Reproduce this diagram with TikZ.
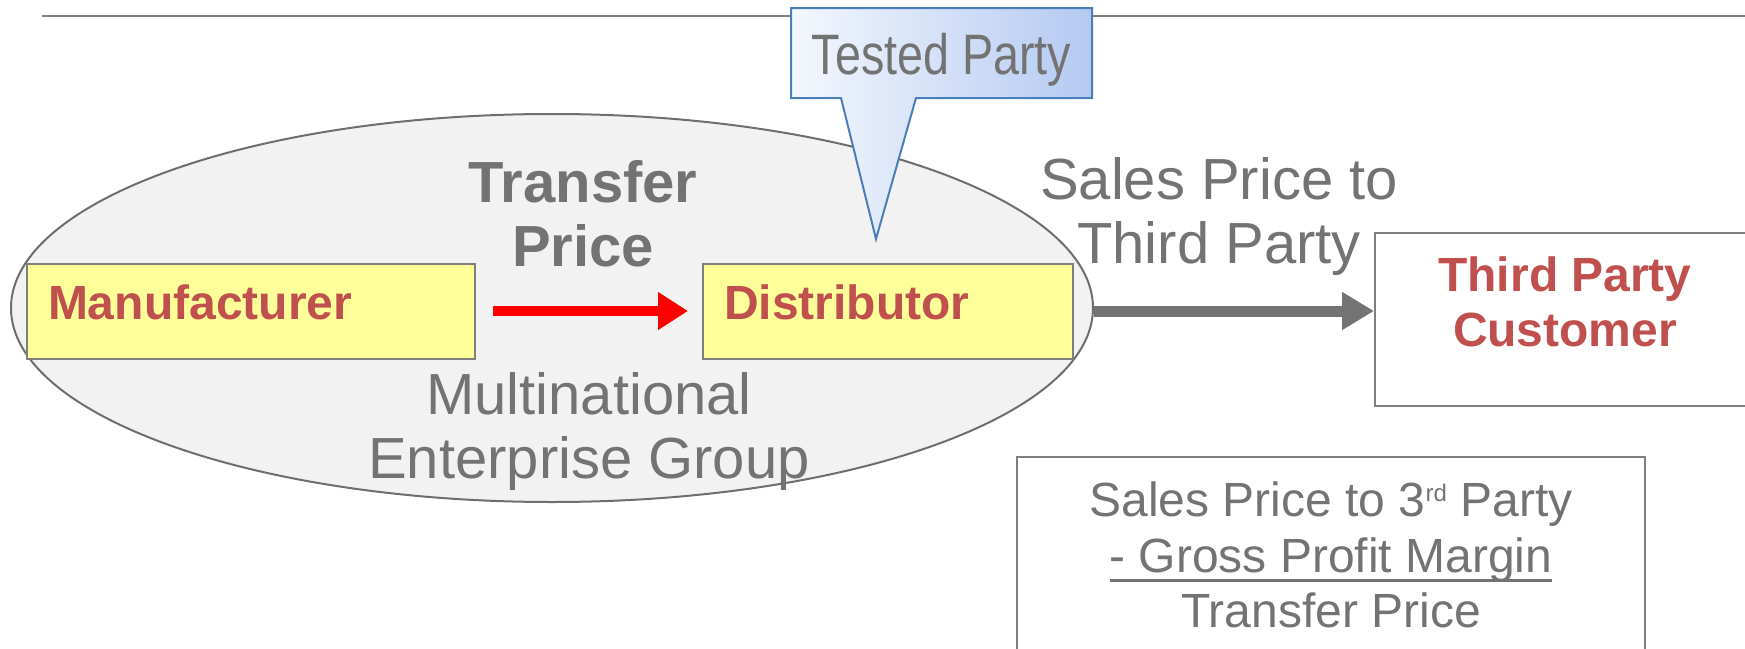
\documentclass[tikz,border=0pt]{standalone}
\usepackage{fontspec}
\setmainfont{Liberation Sans}
\newfontfamily\narrowfont{Liberation Sans}[FakeStretch=0.82]
\usetikzlibrary{positioning,shapes.geometric,arrows.meta}
\definecolor{txtgray}{HTML}{737373}
\definecolor{txtred}{HTML}{C0504D}
\definecolor{boxyellow}{HTML}{FFFF99}
\definecolor{boxgray}{HTML}{7F7F7F}
\definecolor{groupfill}{HTML}{F2F2F2}
\definecolor{groupline}{HTML}{6E6E6E}
\definecolor{calloutline}{HTML}{4A7EBB}
\definecolor{calloutleft}{HTML}{F4F7FD}
\definecolor{calloutright}{HTML}{B4CAF2}
\newcommand{\ulrule}[1]{\setbox0\hbox{#1}\rlap{\rule[-4.75pt]{\wd0}{1.5pt}}\box0}
\newcommand{\ordsup}[1]{\raisebox{7.5pt}{\fontsize{12}{12}\selectfont #1}}

\begin{document}
\begin{tikzpicture}[x=0.5pt, y=-0.5pt,
        entity/.style = {draw=boxgray, line width=1pt, fill=boxyellow, minimum height=47.5pt, inner xsep=10.5pt, inner ysep=0pt, text height=17pt, text depth=9pt, align=left, text=txtred, font=\fontsize{24}{27.5}\selectfont\bfseries},
        plain/.style = {draw=boxgray, line width=1pt, fill=white},
        grey/.style = {text=txtgray, align=center, font=\fontsize{29}{32}\selectfont}]
        \useasboundingbox (0,0) rectangle (1745,648);
        \clip (0,0) rectangle (1745,648);

        \draw[boxgray, line width=1.25pt] (42,16) -- (1745,16);

        \node[ellipse, draw=groupline, line width=1pt, fill=groupfill, minimum width=541pt, minimum height=194pt, inner sep=0pt] (0) at (552,308) {};

        \node[entity, text width=203pt] (1) at (251,311) {Manufacturer};
        \node[entity, text width=164pt] (2) [right=113pt of 1] {Distributor};

        \node[grey, font=\fontsize{29}{32}\selectfont\bfseries] (3) at (583,214) {Transfer\\Price};
        \node[grey] (4) at (589,431) {Multinational\\Enterprise Group};
        \node[grey] (5) at (1219,217) {Sales Price to\\Third Party};

        \node[plain, minimum width=190pt, minimum height=86.5pt] (6) at (1565,319.5) {};
        \node[text=txtred, align=center, font=\fontsize{24}{27.5}\selectfont\bfseries] (7) at ([yshift=8.75pt]6.center) {Third Party\\Customer};

        \node[plain, minimum width=314pt, minimum height=150pt] (8) at (1331,607) {};
        \node[text=txtgray, align=center, font=\fontsize{24}{27.75}\selectfont] (9) at (1331,555) {Sales Price to 3\ordsup{rd} Party\\\ulrule{- Gross Profit Margin}\\Transfer Price};

        \draw[red, line width=5pt, -{Triangle[length=15pt,width=18pt]}, shorten <=8.5pt, shorten >=7pt] (1) -- (2);
        \draw[txtgray, line width=5.5pt, -{Triangle[length=16pt,width=18pt]}] (0.east |- 2.east) -- (2.east -| 6.west);

        \coordinate (10) at (876,239);
        \draw[calloutline, line width=1pt, left color=calloutleft, right color=calloutright, line join=miter] (791,8) -- (1092,8) -- (1092,98) -- (916,98) -- (10) -- (841,98) -- (791,98) -- cycle;
        \node[text=txtgray, anchor=base, font=\narrowfont\fontsize{28.5}{30}\selectfont] (11) at (941.5,74) {Tested Party};
\end{tikzpicture}
\end{document}
